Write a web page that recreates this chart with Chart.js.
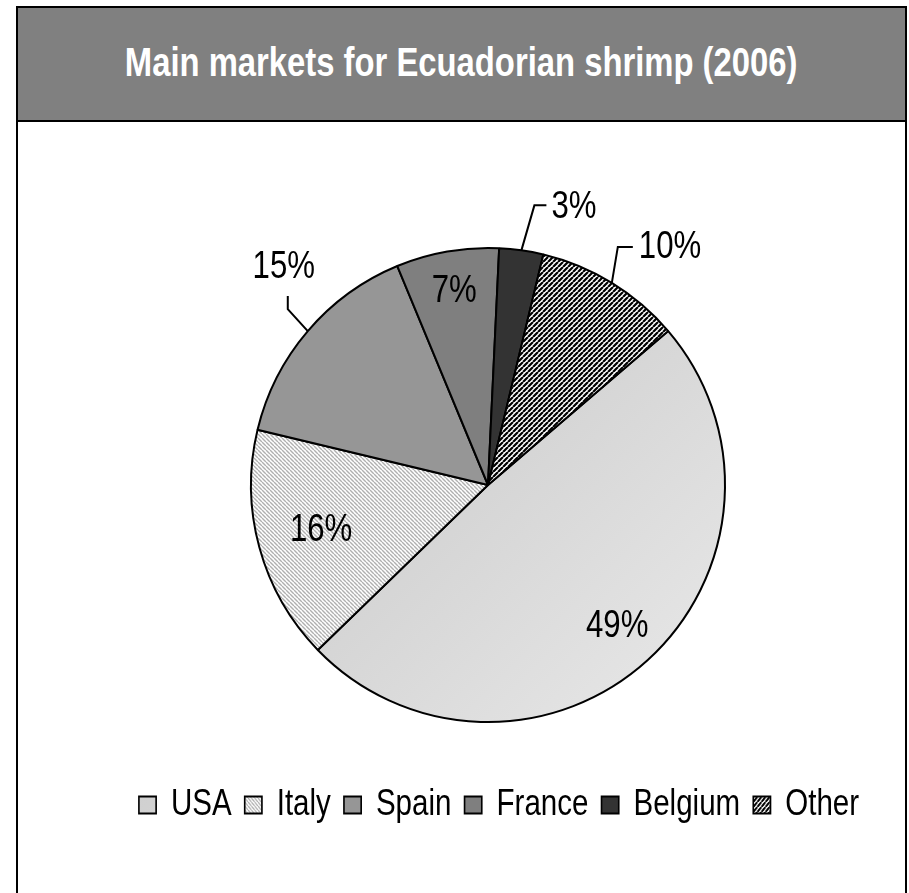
<!DOCTYPE html>
<html>
<head>
<meta charset="utf-8">
<script src="https://cdn.jsdelivr.net/npm/chart.js@4/dist/chart.umd.min.js"></script>
<style>
  html, body { margin: 0; padding: 0; background: #fff; width: 909px; height: 893px; overflow: hidden; }
  #frame { position: absolute; left: 16px; top: 6px; width: 891px; height: 920px;
           border: 2px solid #000; box-sizing: border-box; }
  #title { height: 112px; background: #808080; border-bottom: 2px solid #000;
           text-align: center; line-height: 112px; white-space: nowrap; }
  #title span { display: inline-block; position: relative; top: 7px; color: #fff;
                font: bold 40px "Liberation Sans", Arial, sans-serif;
                transform: scaleX(0.82); transform-origin: 50% 50%; }
  #wrap { position: absolute; left: 18px; top: 122px; width: 887px; height: 771px; }
</style>
</head>
<body>
<div id="frame"><div id="title"><span>Main markets for Ecuadorian shrimp (2006)</span></div></div>
<div id="wrap"><canvas id="pie"></canvas></div>
<script>
(() => {
  "use strict";
  const FONT = '"Liberation Sans", Arial, sans-serif';
  const NARROW = 0.82; // Arial Narrow ~ Arial squeezed horizontally

  const markets = ["USA", "Italy", "Spain", "France", "Belgium", "Other"];
  const shares = [49, 16, 15, 7, 3, 10];

  // stripe tiles for Italy (light "\\") and Other (dark "/")
  function stripes(size, bg, fg, lw, dir) {
    const c = document.createElement("canvas");
    c.width = c.height = size;
    const x = c.getContext("2d");
    x.fillStyle = bg; x.fillRect(0, 0, size, size);
    x.strokeStyle = fg; x.lineWidth = lw;
    x.beginPath();
    for (let k = -1; k <= 1; k++) {
      if (dir > 0) { x.moveTo(k * size, size); x.lineTo(k * size + size, 0); }
      else { x.moveTo(k * size, 0); x.lineTo(k * size + size, size); }
    }
    x.stroke();
    return x.createPattern(c, "repeat");
  }
  const italyFill = stripes(4, "#ffffff", "#b0b0b0", 1.4, -1);
  const otherFill = stripes(5, "#ffffff", "#000000", 2.2, 1);
  const flatFills = [null, italyFill, "#969696", "#7f7f7f", "#333333", otherFill];

  function sliceFill(ctx) {
    if (ctx.dataIndex !== 0) return flatFills[ctx.dataIndex];
    const ca = ctx.chart.chartArea;
    if (!ca) return "#d6d6d6";
    const cx = (ca.left + ca.right) / 2, cy = (ca.top + ca.bottom) / 2;
    const r = Math.min(ca.width, ca.height) / 2;
    const g = ctx.chart.ctx.createLinearGradient(cx - r, cy - r, cx + r, cy + r);
    g.addColorStop(0, "#c2c2c2");
    g.addColorStop(1, "#e9e9e9");
    return g;
  }

  // label placement: inside slices at a radius fraction, or outside with a leader line
  const labelStyle = [
    { r: 0.81 },
    { r: 0.73 },
    { leader: [[-20, -22], [-20, -35]], text: [-24, -64], align: "center" },
    { r: 0.83 },
    { leader: [[13, -45], [25, -45]], text: [30, -43], align: "left" },
    { leader: [[6, -36], [21, -36]], text: [27, -35], align: "left" },
  ];

  // legend text is squeezed like Arial Narrow; measure and draw accordingly
  const narrowLegend = {
    id: "narrowLegend",
    beforeLayout(chart) {
      const lg = chart.legend;
      if (!lg || lg._narrowed) return;
      const fit = lg.fit.bind(lg);
      lg.fit = function () {
        const mw = this.maxWidth;
        this.maxWidth = mw / NARROW;
        fit();
        this.maxWidth = mw;
        this.width = Math.min(this.width, mw);
      };
      const draw = lg.draw.bind(lg);
      lg.draw = function (area) {
        const c = this.ctx, cx = (this.left + this.right) / 2;
        const half = (this.right - this.left) / 2 / NARROW;
        const l = this.left, r = this.right, w = this.width;
        this.left = cx - half; this.right = cx + half; this.width = half * 2;
        c.save();
        c.translate(cx + 11, 0);
        c.scale(NARROW, 1);
        c.translate(-cx, 0);
        draw(area);
        c.restore();
        this.left = l; this.right = r; this.width = w;
      };
      lg._narrowed = true;
    },
  };

  const sliceLabels = {
    id: "sliceLabels",
    afterDatasetsDraw(chart) {
      const ctx = chart.ctx;
      const meta = chart.getDatasetMeta(0);
      ctx.save();
      ctx.font = "38px " + FONT;
      ctx.fillStyle = "#000";
      ctx.strokeStyle = "#000";
      ctx.lineWidth = 2;
      ctx.textBaseline = "middle";
      const put = (txt, tx, ty, align) => {
        ctx.save();
        ctx.translate(tx, ty);
        ctx.scale(NARROW, 1);
        ctx.textAlign = align;
        ctx.fillText(txt, 0, 0);
        ctx.restore();
      };
      meta.data.forEach((arc, i) => {
        const { x, y, startAngle, endAngle, outerRadius } = arc.getProps(["x", "y", "startAngle", "endAngle", "outerRadius"], true);
        const mid = (startAngle + endAngle) / 2;
        const st = labelStyle[i];
        const txt = shares[i] + "%";
        if (st.r) {
          put(txt, x + Math.cos(mid) * outerRadius * st.r, y + Math.sin(mid) * outerRadius * st.r, "center");
          return;
        }
        const px = x + Math.cos(mid) * outerRadius, py = y + Math.sin(mid) * outerRadius;
        ctx.beginPath();
        ctx.moveTo(px, py);
        st.leader.forEach(([dx, dy]) => ctx.lineTo(px + dx, py + dy));
        ctx.stroke();
        put(txt, px + st.text[0], py + st.text[1], st.align);
      });
      ctx.restore();
    },
  };

  new Chart(document.getElementById("pie"), {
    type: "pie",
    data: {
      labels: markets,
      datasets: [{ data: shares, backgroundColor: sliceFill, borderColor: "#000", borderWidth: 2 }],
    },
    options: {
      responsive: true, maintainAspectRatio: false, animation: false,
      rotation: 49.5,
      layout: { padding: { left: 53, right: 0, top: 125, bottom: 60 } },
      plugins: {
        tooltip: { enabled: false },
        legend: {
          position: "bottom",
          title: { display: true, text: "", font: { size: 1, lineHeight: 1 }, padding: { top: 47, bottom: 0 } },
          labels: { color: "#000", font: { family: FONT, size: 36 }, boxWidth: 21, boxHeight: 17, padding: 16 },
        },
      },
    },
    plugins: [narrowLegend, sliceLabels],
  });
})();
</script>
</body>
</html>
